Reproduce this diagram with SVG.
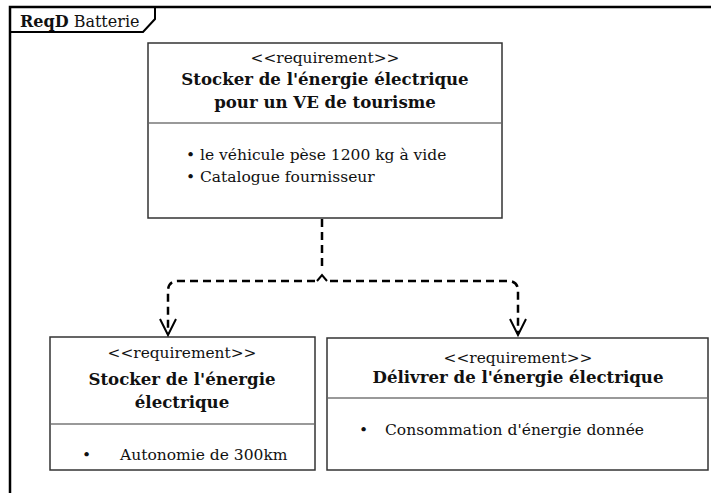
<svg xmlns="http://www.w3.org/2000/svg" width="711" height="493" viewBox="0 0 711 493">
<style>
.box{fill:#fff;stroke:#333;stroke-width:1.5}
.div{stroke:#999;stroke-width:2}
.st{font-family:"DejaVu Serif","Liberation Serif",serif;font-size:15.4px;fill:#111;text-anchor:middle}
.ti{font-family:"DejaVu Serif","Liberation Serif",serif;font-size:16.6px;font-weight:bold;fill:#111;text-anchor:middle}
.tx{font-family:"DejaVu Serif","Liberation Serif",serif;font-size:15.5px;fill:#111}
.con{fill:none;stroke:#000;stroke-width:2.5;stroke-dasharray:8 5}
.hd{fill:none;stroke:#000;stroke-width:2}
</style>
<rect width="711" height="493" fill="#fff"/>
<g id="frame">
<path d="M10,500 V7 H720" fill="none" stroke="#000" stroke-width="2.5"/>
<path d="M10,32 H143 L155,19 V7" fill="none" stroke="#000" stroke-width="2"/>
<text x="20" y="27" class="tx" style="font-size:16px"><tspan font-weight="bold">ReqD</tspan> Batterie</text>
</g>
<g id="req-top">
<rect class="box" x="148" y="43" width="354" height="175"/>
<line class="div" x1="149" y1="123" x2="501" y2="123"/>
<text x="325" y="63" class="st">&lt;&lt;requirement&gt;&gt;</text>
<text x="325" y="85" class="ti">Stocker de l'énergie électrique</text>
<text x="325" y="108" class="ti">pour un VE de tourisme</text>
<text x="186" y="160" class="tx">•</text>
<text x="200" y="160" class="tx">le véhicule pèse 1200 kg à vide</text>
<text x="186" y="182" class="tx">•</text>
<text x="200" y="182" class="tx">Catalogue fournisseur</text>
</g>
<g id="req-stocker">
<rect class="box" x="50" y="337" width="265" height="133"/>
<line class="div" x1="51" y1="424" x2="314" y2="424"/>
<text x="182" y="358" class="st">&lt;&lt;requirement&gt;&gt;</text>
<text x="182" y="385" class="ti">Stocker de l'énergie</text>
<text x="182" y="408" class="ti">électrique</text>
<text x="82" y="460" class="tx">•</text>
<text x="120" y="460" class="tx">Autonomie de 300km</text>
</g>
<g id="req-delivrer">
<rect class="box" x="327" y="338" width="381" height="132"/>
<line class="div" x1="328" y1="398" x2="707" y2="398"/>
<text x="518" y="363" class="st">&lt;&lt;requirement&gt;&gt;</text>
<text x="518" y="383" class="ti">Délivrer de l'énergie électrique</text>
<text x="359" y="435" class="tx">•</text>
<text x="385" y="435" class="tx">Consommation d'énergie donnée</text>
</g>
<g id="connectors">
<path class="con" d="M322,219 V268"/>
<polyline class="hd" points="317,281 322,275 327,281"/>
<path class="con" d="M315,281 H178 Q168,281 168,291 V334"/>
<path class="con" d="M330,281 H508 Q518,281 518,291 V334"/>
<polyline class="hd" points="160,319 168,335 176,319"/>
<polyline class="hd" points="510,319 518,335 526,319"/>
</g>
</svg>
